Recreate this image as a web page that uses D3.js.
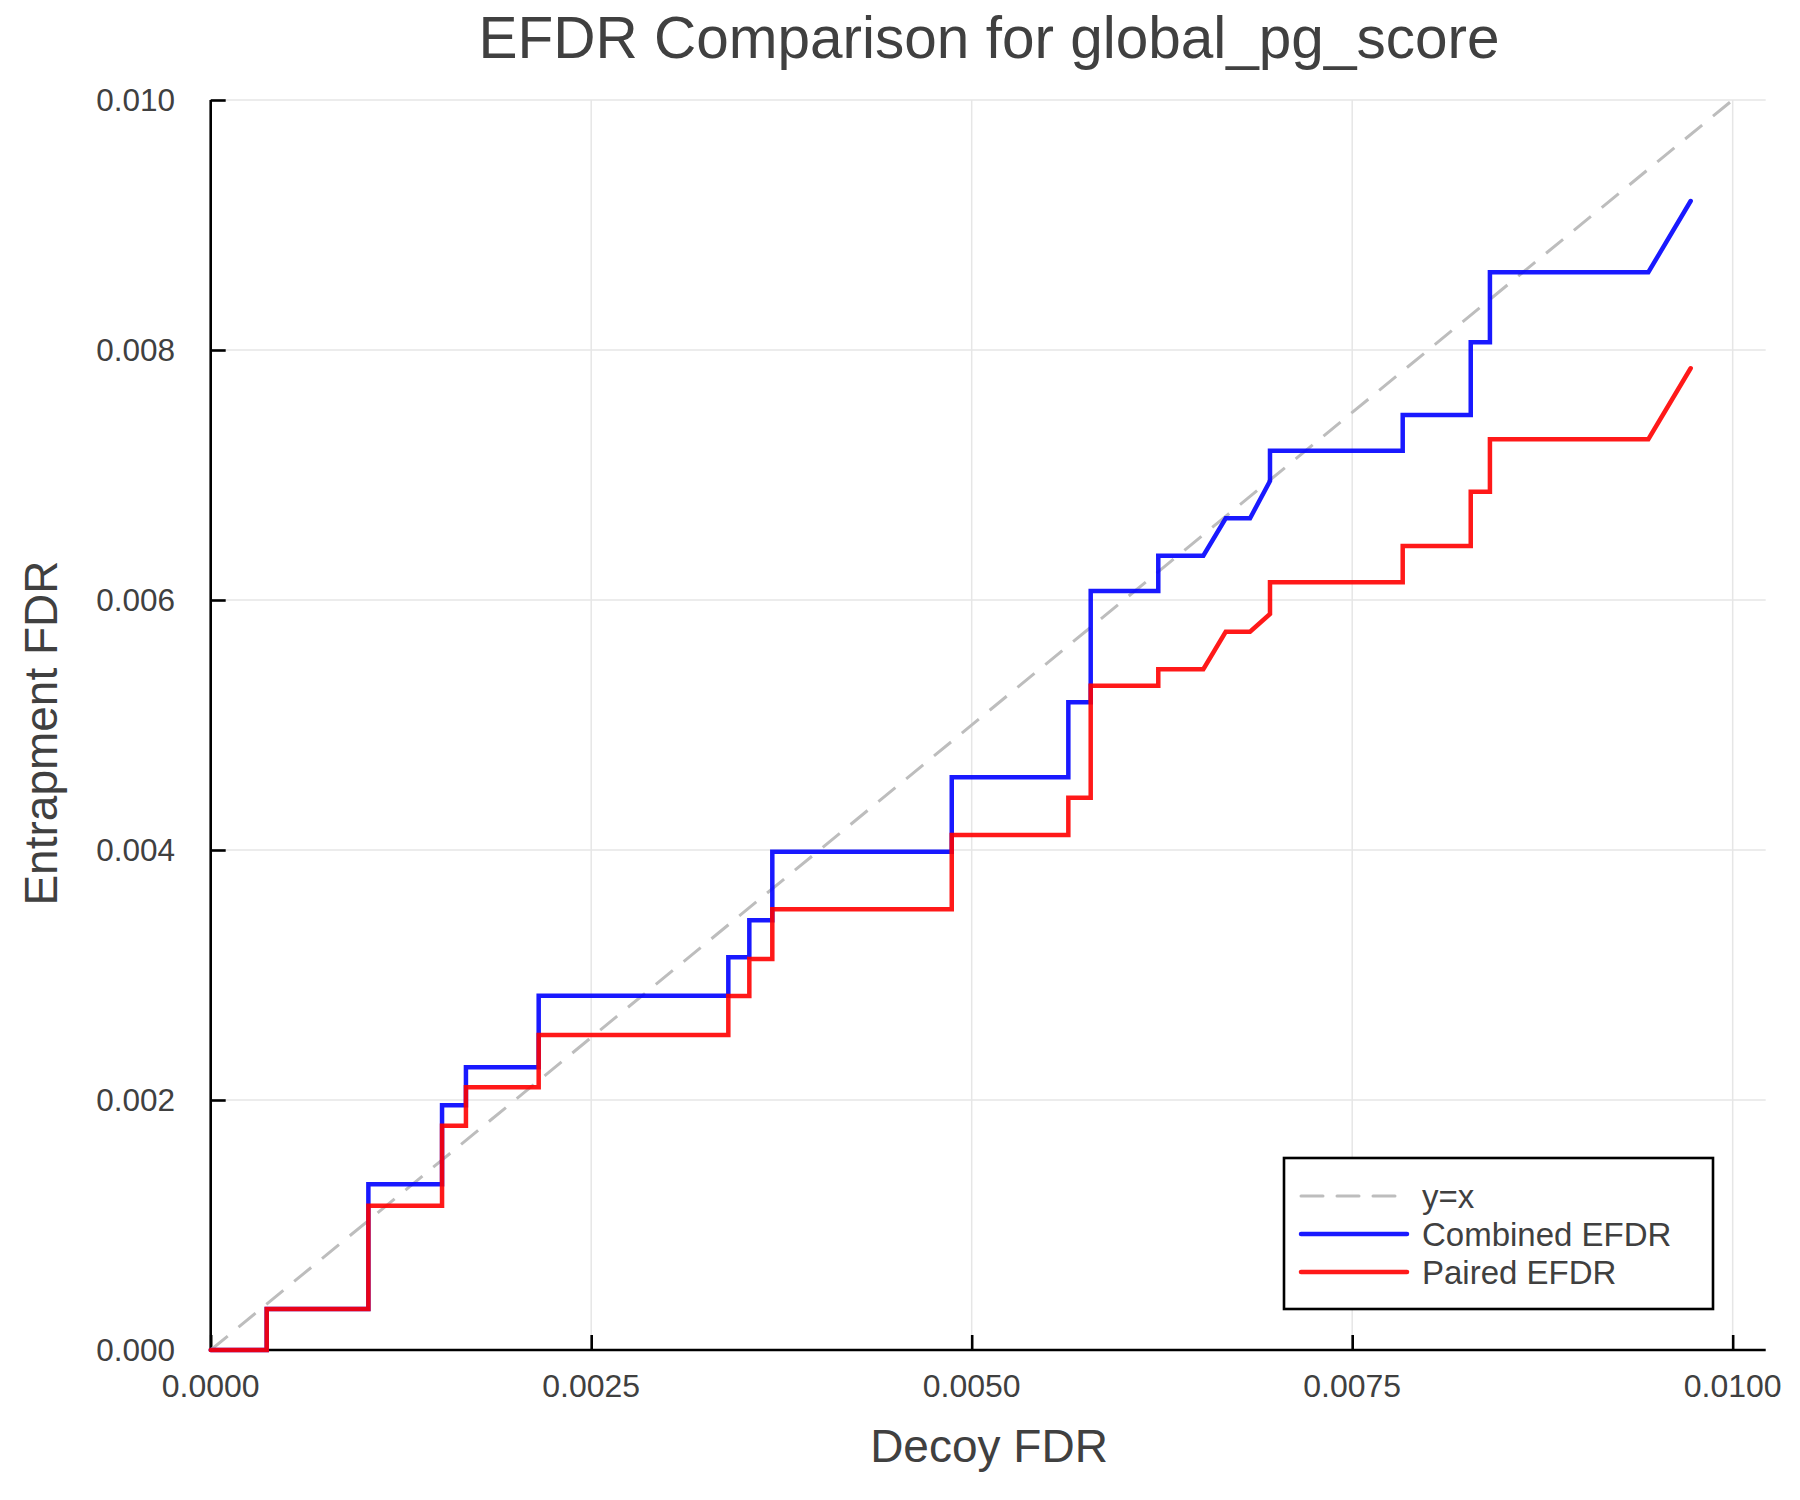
<!DOCTYPE html>
<html>
<head>
<meta charset="utf-8">
<script src="https://cdn.jsdelivr.net/npm/d3@7"></script>
<style>
  body { margin: 0; background: #fff; }
  text { font-family: "Liberation Sans", Arial, Helvetica, sans-serif; fill: #404040; }
</style>
</head>
<body>
<svg id="chart" width="1800" height="1500"></svg>
<script>
// decoy FDR (x) shared by both curves
const decoyFdr = [0, 0.000368, 0.000368, 0.001036, 0.001036, 0.00152, 0.00152, 0.001677, 0.001677,
  0.002155, 0.002155, 0.003401, 0.003401, 0.003539, 0.003539, 0.00369, 0.00369, 0.004869, 0.004869,
  0.005635, 0.005635, 0.005782, 0.005782, 0.006226, 0.006226, 0.006522, 0.006669, 0.006829, 0.00696,
  0.00696, 0.007832, 0.007832, 0.008279, 0.008279, 0.008405, 0.008405, 0.009446, 0.009724];
const combinedEfdr = [0, 0, 0.000328, 0.000328, 0.001326, 0.001326, 0.001958, 0.001958, 0.002262,
  0.002262, 0.002834, 0.002834, 0.003142, 0.003142, 0.003438, 0.003438, 0.003986, 0.003986, 0.004582,
  0.004582, 0.005182, 0.005182, 0.006072, 0.006072, 0.006354, 0.006354, 0.006654, 0.006654, 0.006952,
  0.007194, 0.007194, 0.00748, 0.00748, 0.008062, 0.008062, 0.008622, 0.008622, 0.009192];
const pairedEfdr = [0, 0, 0.000328, 0.000328, 0.001154, 0.001154, 0.001794, 0.001794, 0.002102,
  0.002102, 0.00252, 0.00252, 0.002832, 0.002832, 0.003128, 0.003128, 0.003526, 0.003526, 0.00412,
  0.00412, 0.004418, 0.004418, 0.005314, 0.005314, 0.005446, 0.005446, 0.005746, 0.005746, 0.005888,
  0.006142, 0.006142, 0.006432, 0.006432, 0.006866, 0.006866, 0.007286, 0.007286, 0.007854];
const diagonal = [0, 0.01];
const xTicks = [0, 0.0025, 0.005, 0.0075, 0.01];
const yTicks = [0, 0.002, 0.004, 0.006, 0.008, 0.01];
const seriesNames = ['y=x', 'Combined EFDR', 'Paired EFDR'];

const svg = d3.select('#chart');
const plotLeft = 210.7, plotRight = 1765.7, plotTop = 100, plotBottom = 1350;

const x = d3.scaleLinear().domain([0, 0.010217]).range([plotLeft, plotRight]);
const y = d3.scaleLinear().domain([0, 0.01]).range([plotBottom, plotTop]);

// grid
svg.append('g').selectAll('line').data(xTicks).enter().append('line')
  .attr('x1', d => x(d)).attr('x2', d => x(d)).attr('y1', plotTop).attr('y2', plotBottom)
  .attr('stroke', '#e6e6e6').attr('stroke-width', 1.5);
svg.append('g').selectAll('line').data(yTicks).enter().append('line')
  .attr('y1', d => y(d)).attr('y2', d => y(d)).attr('x1', plotLeft).attr('x2', plotRight)
  .attr('stroke', '#e6e6e6').attr('stroke-width', 1.5);

// axes, ticks pointing inward
const xAxis = svg.append('g').attr('transform', `translate(0,${plotBottom})`)
  .call(d3.axisTop(x).tickValues(xTicks).tickSize(15).tickFormat(''));
const yAxis = svg.append('g').attr('transform', `translate(${plotLeft},0)`)
  .call(d3.axisRight(y).tickValues(yTicks).tickSize(15).tickFormat(''));
[xAxis, yAxis].forEach(a => {
  a.select('.domain').attr('stroke', '#000').attr('stroke-width', 2.6);
  a.selectAll('.tick line').attr('stroke', '#000').attr('stroke-width', 2.6);
});
xAxis.select('.domain').attr('d', `M${plotLeft},0H${plotRight}`);
yAxis.select('.domain').attr('d', `M0,${plotBottom}V${plotTop}`);

// tick labels
svg.append('g').selectAll('text').data(xTicks).enter().append('text')
  .attr('x', d => x(d)).attr('y', plotBottom + 47)
  .attr('text-anchor', 'middle').attr('font-size', 32)
  .text(d3.format('.4f'));
svg.append('g').selectAll('text').data(yTicks).enter().append('text')
  .attr('x', 175).attr('y', d => y(d) + 11)
  .attr('text-anchor', 'end').attr('font-size', 31.5)
  .text(d3.format('.3f'));

// lines
const line = d3.line().x(d => x(d[0])).y(d => y(d[1]));

svg.append('path')
  .attr('d', line(diagonal.map(v => [v, v])))
  .attr('fill', 'none').attr('stroke', '#bdbdbd').attr('stroke-width', 3)
  .attr('stroke-dasharray', '22,14');

svg.append('path')
  .attr('d', line(d3.zip(decoyFdr, combinedEfdr)))
  .attr('fill', 'none').attr('stroke', 'blue').attr('stroke-opacity', 0.9)
  .attr('stroke-width', 4.5).attr('stroke-linecap', 'round');

svg.append('path')
  .attr('d', line(d3.zip(decoyFdr, pairedEfdr)))
  .attr('fill', 'none').attr('stroke', 'red').attr('stroke-opacity', 0.9)
  .attr('stroke-width', 4.5).attr('stroke-linecap', 'round');

// title and axis labels
svg.append('text').attr('x', 989).attr('y', 58).attr('text-anchor', 'middle')
  .attr('font-size', 58.5).text('EFDR Comparison for global_pg_score');
svg.append('text').attr('x', 989).attr('y', 1462).attr('text-anchor', 'middle')
  .attr('font-size', 46).text('Decoy FDR');
svg.append('text').attr('transform', 'translate(57,733) rotate(-90)').attr('text-anchor', 'middle')
  .attr('font-size', 46).text('Entrapment FDR');

// legend
const legend = svg.append('g');
legend.append('rect').attr('x', 1284).attr('y', 1158).attr('width', 429).attr('height', 151)
  .attr('fill', '#fff').attr('stroke', '#000').attr('stroke-width', 2.6);
const legendStyles = [
  { color: '#bdbdbd', dash: '22,14', opacity: 1 },
  { color: 'blue', dash: null, opacity: 0.9 },
  { color: 'red', dash: null, opacity: 0.9 }
];
seriesNames.forEach((name, i) => {
  const ry = 1196 + i * 38;
  legend.append('line').attr('x1', 1301).attr('x2', 1407).attr('y1', ry).attr('y2', ry)
    .attr('stroke', legendStyles[i].color).attr('stroke-opacity', legendStyles[i].opacity)
    .attr('stroke-width', i === 0 ? 3 : 4.5).attr('stroke-linecap', 'round')
    .attr('stroke-dasharray', legendStyles[i].dash);
  legend.append('text').attr('x', 1422).attr('y', ry + 12).attr('font-size', 33).text(name);
});
</script>
</body>
</html>
